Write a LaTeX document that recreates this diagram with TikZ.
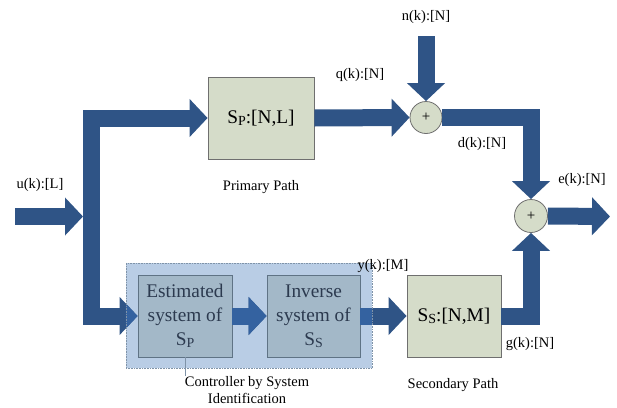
\documentclass[tikz,border=0pt]{standalone}
\usepackage{fontspec}
\setmainfont{Liberation Serif}
\usetikzlibrary{arrows.meta}
\definecolor{arrowblue}{HTML}{2F5486}
\definecolor{innerblue}{HTML}{3462A0}
\definecolor{boxfill}{HTML}{D5DCC9}
\definecolor{boxline}{HTML}{6F6F6F}
\definecolor{ctrlbg}{HTML}{B9CDE5}
\definecolor{ctrlfill}{HTML}{A3B8C8}
\definecolor{ctrlline}{HTML}{5F7385}
\definecolor{ctrltext}{HTML}{2C3A4F}
\definecolor{overlayline}{HTML}{7F93A8}
\newcommand\subsc[1]{\raisebox{-0.12em}{\scalebox{0.72}{#1}}}
\tikzset{
  flow/.style={draw=arrowblue, line width=17pt, line join=miter,
    -{Triangle[width=37pt,length=18pt]}},
  blk/.style={draw=boxline, fill=boxfill, line width=0.8pt, minimum width=94pt,
    minimum height=82pt, inner sep=2pt, align=center, font=\fontsize{19.3}{24}\selectfont},
  ctrlblk/.style={blk, draw=ctrlline, fill=ctrlfill, text=ctrltext},
  sumnode/.style={circle, draw=boxline, fill=boxfill, line width=0.8pt, minimum size=32pt,
    inner sep=0pt, font=\fontsize{15}{15}\selectfont},
  lbl/.style={font=\fontsize{14.5}{17}\selectfont, inner sep=0pt, align=center},
}
\begin{document}
\begin{tikzpicture}[x=1pt, y=-1pt]
\useasboundingbox (0,0) rectangle (617,407);
% controller background
\node[fill=ctrlbg, minimum width=246pt, minimum height=105pt, inner sep=0pt] (ctrlbox) at (249,315.5) {};
% blocks
\node[blk, minimum width=106pt] (sp) at (261,118) {S\subsc{P}:[N,L]};
\node[sumnode] (c1) at (426,117.5) {+};
\node[sumnode, minimum size=33pt] (c2) at (531,216) {+};
\node[ctrlblk] (est) at (185,316) {Estimated\\system of\\S\subsc{P}};
\node[ctrlblk, minimum width=93pt] (inv) at (313.5,316) {Inverse\\system of\\S\subsc{S}};
\node[blk] (ss) at (454,316) {S\subsc{S}:[N,M]};
% coordinates
\coordinate (in) at (15,216.5);
\coordinate (split) at (91.5,216.5);
\coordinate (nin) at (426,36);
\coordinate (out) at (610,216.5);
% connectors
\draw[flow] (split) |- (sp.west);
\draw[flow] (split) |- (est.west);
\draw[flow, shorten >=8.5pt] (in) -- (split);
\draw[flow] (sp.east) -- (c1.west);
\draw[flow] (nin) -- (c1.north);
\draw[flow] (c1.east) -| (c2.north);
\draw[flow] (ss.east) -| (c2.south);
\draw[flow] (c2.east) -- (out);
\draw[flow] (est.east) -- (inv.west);
\draw[flow] (inv.east) -- (ss.west);
% tint of the connectors inside the controller area
\begin{scope}
  \clip (ctrlbox.north west) rectangle (ctrlbox.south east);
  \draw[flow, draw=innerblue, fill=innerblue] (split) |- (est.west);
  \draw[flow, draw=innerblue, fill=innerblue] (est.east) -- (inv.west);
  \draw[flow, draw=innerblue, fill=innerblue] (inv.east) -- (ss.west);
\end{scope}
\draw[overlayline, densely dotted, line width=0.6pt] (ctrlbox.north west) rectangle (ctrlbox.south east);
% labels
\node[lbl] (lu) at (40,185) {u(k):[L]};
\node[lbl] (ln) at (426,17) {n(k):[N]};
\node[lbl] (lq) at (360,75) {q(k):[N]};
\node[lbl] (ld) at (482,144) {d(k):[N]};
\node[lbl] (le) at (582,180) {e(k):[N]};
\node[lbl] (ly) at (383,266) {y(k):[M]};
\node[lbl] (lg) at (530,344) {g(k):[N]};
\node[lbl] (lpp) at (261,187) {Primary Path};
\node[lbl] (lsp) at (453,385) {Secondary Path};
\node[lbl, anchor=north] (lctrl) at (247,376) {Controller by System\\Identification};
\draw[overlayline, line width=0.6pt] (est.south) -- (est.south |- lctrl.north);
\end{tikzpicture}
\end{document}
